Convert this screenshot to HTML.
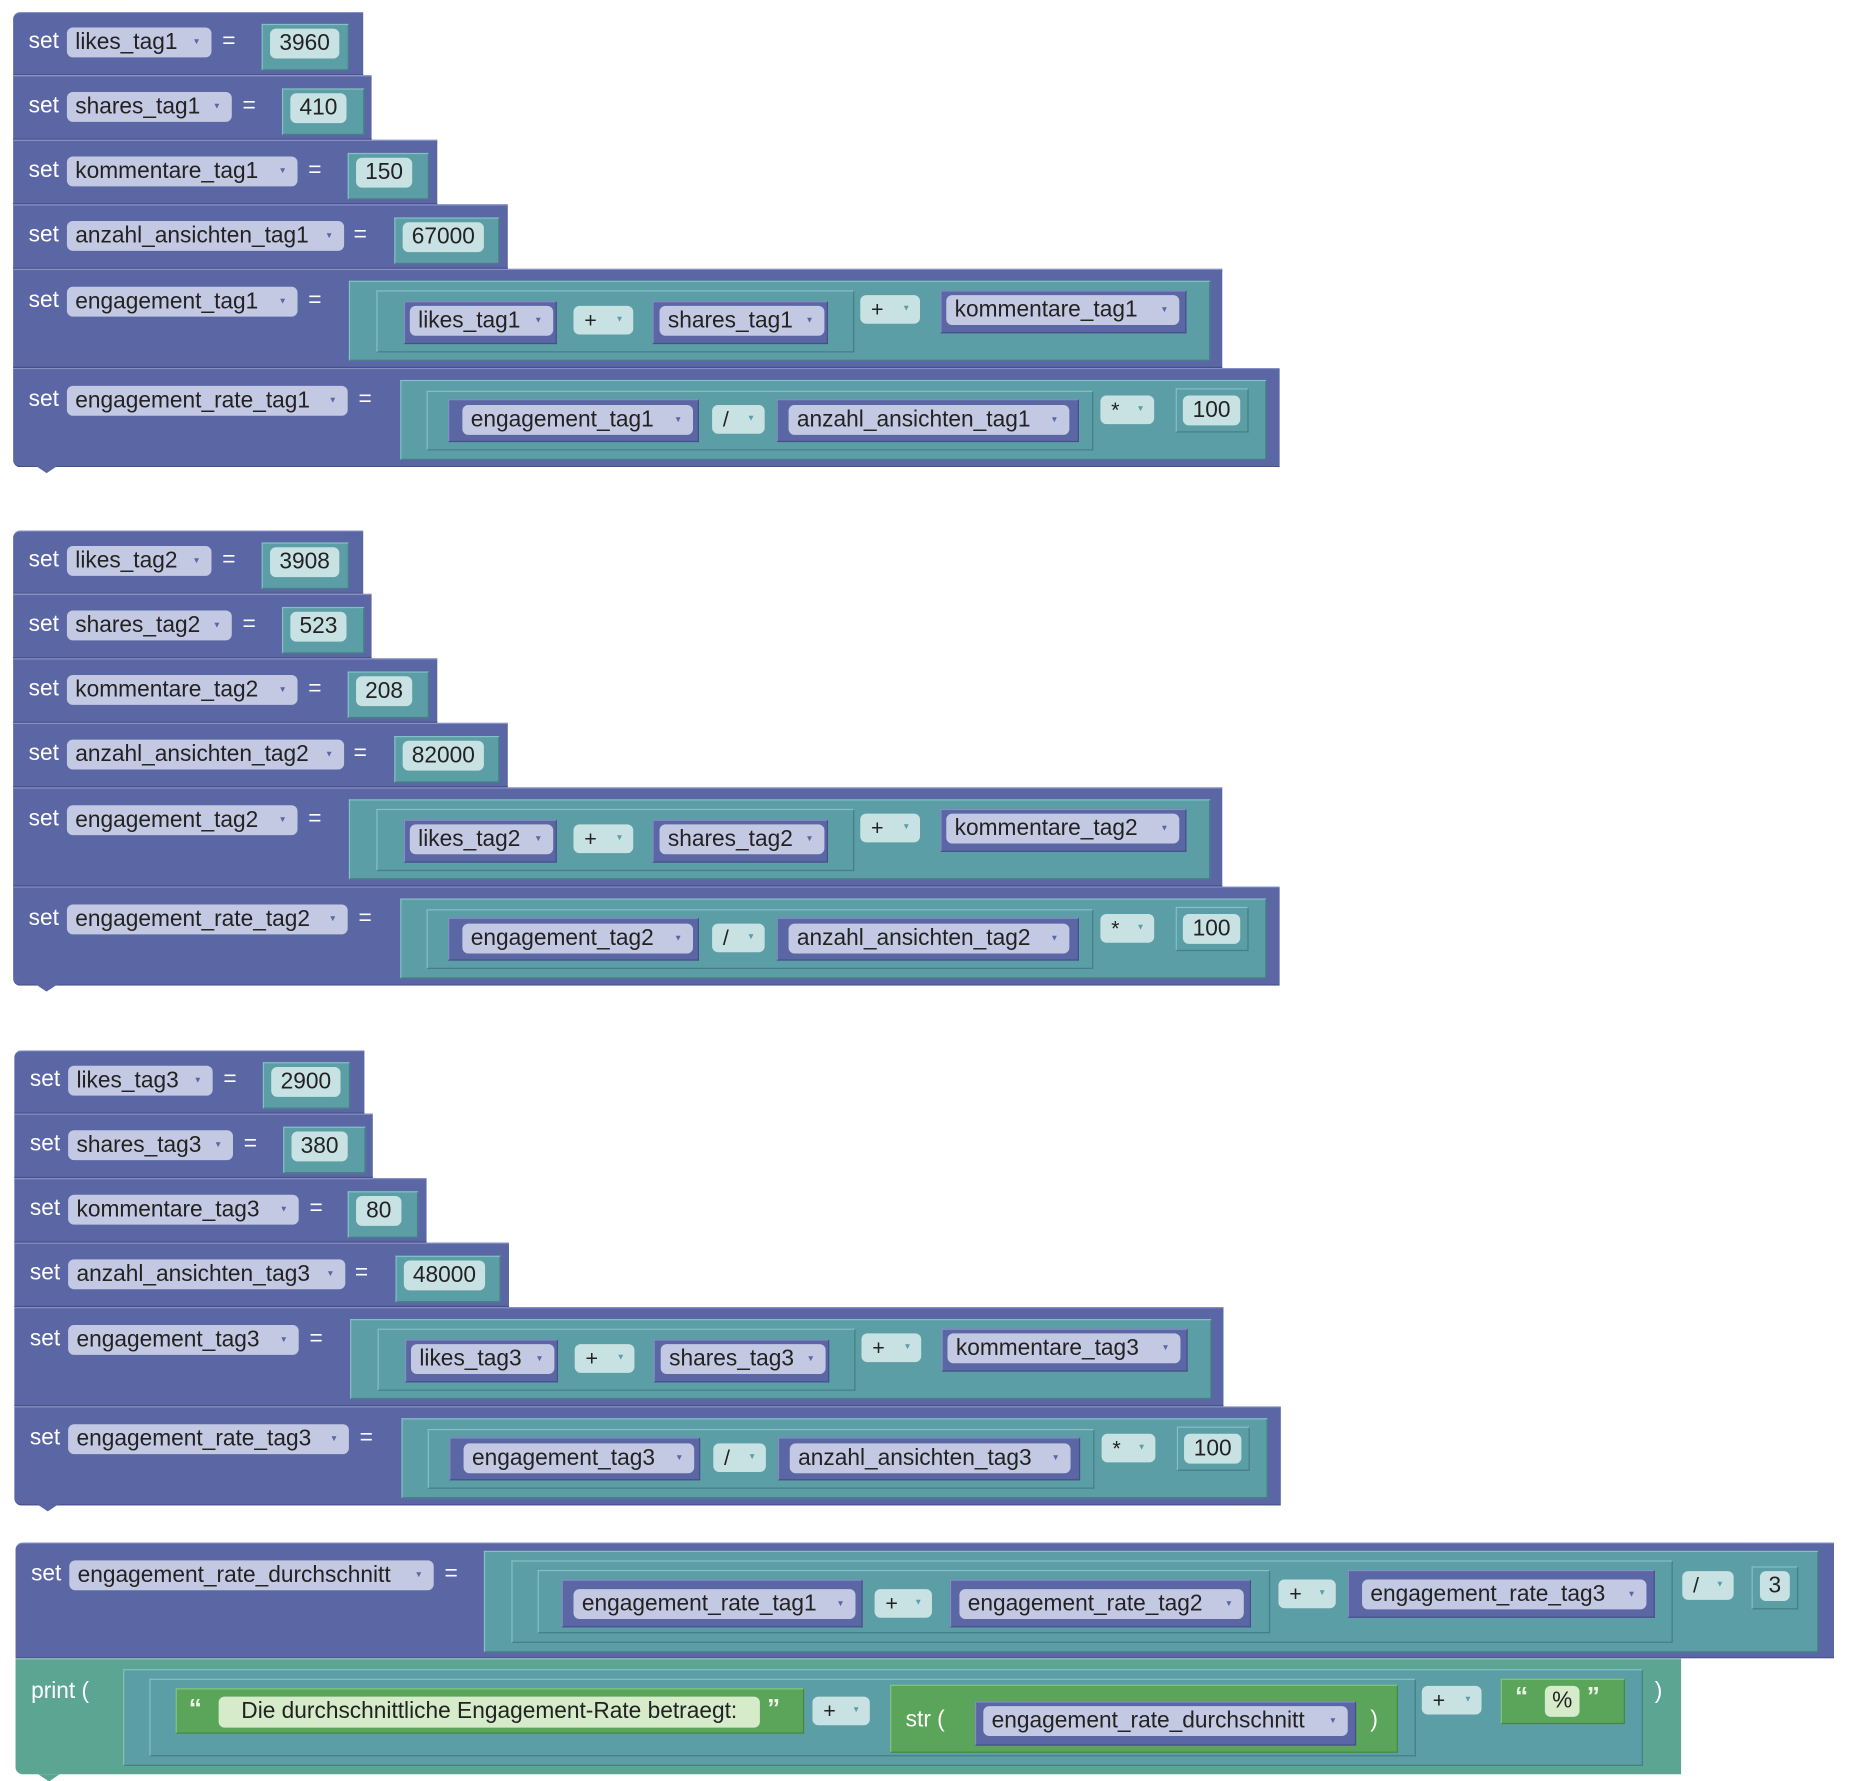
<!DOCTYPE html>
<html><head><meta charset="utf-8"><style>
html,body{margin:0;padding:0;background:#fff;width:1852px;height:1774px;overflow:hidden}
#c{position:absolute;left:0;top:0;width:1550px;height:1485px;transform:scale(1.1948);transform-origin:0 0;font-family:"Liberation Sans",sans-serif}
.g{position:absolute;left:0;width:1550px;height:420px}
.b{position:absolute;background:#5b67a5;border-top:1px solid #8590c4;border-bottom:1px solid #454f88;box-sizing:border-box}
.t{position:absolute;background:#5b9ea5;border:1px solid #84c0c5;border-right-color:#457e84;border-bottom-color:#457e84;box-sizing:border-box}
.gr{position:absolute;background:#5ba55b;border:1px solid #86c486;border-right-color:#468546;border-bottom-color:#468546;box-sizing:border-box}
.pr{position:absolute;background:#5ba592;border-top:1px solid #86c4b4;box-sizing:border-box}
.vb{position:absolute;background:#5b67a5;border:1px solid #8590c4;border-right-color:#454f88;border-bottom-color:#454f88;box-sizing:border-box}
.p{position:absolute;height:25px;line-height:25px;background:#c4c9e3;border-radius:5px;color:#222;font-size:19px;padding-left:7px;box-sizing:border-box;white-space:nowrap}
.p::after{content:"\25BC";position:absolute;right:9px;top:0;font-size:7px;color:#5b67a5}
.o{position:absolute;height:24px;line-height:24px;background:#c8e2e4;border-radius:5px;color:#222;font-size:18px;padding-left:9px;box-sizing:border-box}
.o::after{content:"\25BC";position:absolute;right:8px;top:0;font-size:7px;color:#5b9ea5}
.n{position:absolute;height:25px;line-height:25px;background:#c8e2e4;border-radius:5px;color:#222;font-size:19px;text-align:center;box-sizing:border-box}
.s{position:absolute;height:26px;line-height:26px;background:#d5ebc9;border-radius:5px;color:#222;font-size:19px;text-align:center;box-sizing:border-box;white-space:nowrap}
.w{position:absolute;color:#fff;font-size:19px;line-height:24px;white-space:nowrap}
.nt{position:absolute;width:0;height:0;border-left:9px solid transparent;border-right:9px solid transparent;border-top:6px solid #5b67a5}
</style></head><body><div id="c">

<!-- GROUP 1 -->
<div class="g" style="top:0">
<div class="b" style="left:11px;top:10px;width:293px;height:53px;border-radius:6px 0 0 0"></div>
<div class="w" style="left:24px;top:23px">set</div><div class="p" style="left:56px;top:23px;width:121px">likes_tag1</div><div class="w" style="left:186px;top:23px">=</div>
<div class="t" style="left:219px;top:20px;width:73px;height:39px"></div><div class="n" style="left:226px;top:24px;width:58px">3960</div>

<div class="b" style="left:11px;top:63px;width:300px;height:54px"></div>
<div class="w" style="left:24px;top:77px">set</div><div class="p" style="left:56px;top:77px;width:138px">shares_tag1</div><div class="w" style="left:203px;top:77px">=</div>
<div class="t" style="left:236px;top:74px;width:69px;height:39px"></div><div class="n" style="left:243px;top:78px;width:47px">410</div>

<div class="b" style="left:11px;top:117px;width:355px;height:54px"></div>
<div class="w" style="left:24px;top:131px">set</div><div class="p" style="left:56px;top:131px;width:193px">kommentare_tag1</div><div class="w" style="left:258px;top:131px">=</div>
<div class="t" style="left:291px;top:128px;width:68px;height:39px"></div><div class="n" style="left:298px;top:132px;width:47px">150</div>

<div class="b" style="left:11px;top:171px;width:414px;height:54px"></div>
<div class="w" style="left:24px;top:185px">set</div><div class="p" style="left:56px;top:185px;width:232px">anzahl_ansichten_tag1</div><div class="w" style="left:296px;top:185px">=</div>
<div class="t" style="left:330px;top:182px;width:88px;height:39px"></div><div class="n" style="left:337px;top:186px;width:68px">67000</div>

<div class="b" style="left:11px;top:225px;width:1012px;height:83px"></div>
<div class="w" style="left:24px;top:240px">set</div><div class="p" style="left:56px;top:240px;width:193px">engagement_tag1</div><div class="w" style="left:258px;top:240px">=</div>
<div class="t" style="left:292px;top:235px;width:721px;height:67px"></div>
<div class="t" style="left:315px;top:243px;width:400px;height:52px"></div>
<div class="vb" style="left:338px;top:252px;width:128px;height:36px"></div><div class="p" style="left:343px;top:256px;width:120px">likes_tag1</div>
<div class="o" style="left:480px;top:256px;width:50px">+</div>
<div class="vb" style="left:546px;top:252px;width:147px;height:36px"></div><div class="p" style="left:552px;top:256px;width:138px">shares_tag1</div>
<div class="o" style="left:720px;top:247px;width:50px">+</div>
<div class="vb" style="left:787px;top:243px;width:206px;height:36px"></div><div class="p" style="left:792px;top:247px;width:195px">kommentare_tag1</div>

<div class="b" style="left:11px;top:308px;width:1060px;height:83px;border-radius:0 0 0 6px"></div>
<div class="nt" style="left:30px;top:390px"></div>
<div class="w" style="left:24px;top:323px">set</div><div class="p" style="left:56px;top:323px;width:235px">engagement_rate_tag1</div><div class="w" style="left:300px;top:323px">=</div>
<div class="t" style="left:335px;top:318px;width:725px;height:67px"></div>
<div class="t" style="left:357px;top:327px;width:558px;height:50px"></div>
<div class="vb" style="left:375px;top:334px;width:210px;height:36px"></div><div class="p" style="left:387px;top:339px;width:193px">engagement_tag1</div>
<div class="o" style="left:596px;top:339px;width:44px">/</div>
<div class="vb" style="left:650px;top:334px;width:253px;height:36px"></div><div class="p" style="left:660px;top:339px;width:235px">anzahl_ansichten_tag1</div>
<div class="o" style="left:921px;top:331px;width:45px">*</div>
<div class="t" style="left:984px;top:325px;width:61px;height:37px"></div><div class="n" style="left:990px;top:331px;width:48px">100</div>
</div>

<!-- GROUP 2 -->
<div class="g" style="top:434px">
<div class="b" style="left:11px;top:10px;width:293px;height:53px;border-radius:6px 0 0 0"></div>
<div class="w" style="left:24px;top:23px">set</div><div class="p" style="left:56px;top:23px;width:121px">likes_tag2</div><div class="w" style="left:186px;top:23px">=</div>
<div class="t" style="left:219px;top:20px;width:73px;height:39px"></div><div class="n" style="left:226px;top:24px;width:58px">3908</div>

<div class="b" style="left:11px;top:63px;width:300px;height:54px"></div>
<div class="w" style="left:24px;top:77px">set</div><div class="p" style="left:56px;top:77px;width:138px">shares_tag2</div><div class="w" style="left:203px;top:77px">=</div>
<div class="t" style="left:236px;top:74px;width:69px;height:39px"></div><div class="n" style="left:243px;top:78px;width:47px">523</div>

<div class="b" style="left:11px;top:117px;width:355px;height:54px"></div>
<div class="w" style="left:24px;top:131px">set</div><div class="p" style="left:56px;top:131px;width:193px">kommentare_tag2</div><div class="w" style="left:258px;top:131px">=</div>
<div class="t" style="left:291px;top:128px;width:68px;height:39px"></div><div class="n" style="left:298px;top:132px;width:47px">208</div>

<div class="b" style="left:11px;top:171px;width:414px;height:54px"></div>
<div class="w" style="left:24px;top:185px">set</div><div class="p" style="left:56px;top:185px;width:232px">anzahl_ansichten_tag2</div><div class="w" style="left:296px;top:185px">=</div>
<div class="t" style="left:330px;top:182px;width:88px;height:39px"></div><div class="n" style="left:337px;top:186px;width:68px">82000</div>

<div class="b" style="left:11px;top:225px;width:1012px;height:83px"></div>
<div class="w" style="left:24px;top:240px">set</div><div class="p" style="left:56px;top:240px;width:193px">engagement_tag2</div><div class="w" style="left:258px;top:240px">=</div>
<div class="t" style="left:292px;top:235px;width:721px;height:67px"></div>
<div class="t" style="left:315px;top:243px;width:400px;height:52px"></div>
<div class="vb" style="left:338px;top:252px;width:128px;height:36px"></div><div class="p" style="left:343px;top:256px;width:120px">likes_tag2</div>
<div class="o" style="left:480px;top:256px;width:50px">+</div>
<div class="vb" style="left:546px;top:252px;width:147px;height:36px"></div><div class="p" style="left:552px;top:256px;width:138px">shares_tag2</div>
<div class="o" style="left:720px;top:247px;width:50px">+</div>
<div class="vb" style="left:787px;top:243px;width:206px;height:36px"></div><div class="p" style="left:792px;top:247px;width:195px">kommentare_tag2</div>

<div class="b" style="left:11px;top:308px;width:1060px;height:83px;border-radius:0 0 0 6px"></div>
<div class="nt" style="left:30px;top:390px"></div>
<div class="w" style="left:24px;top:323px">set</div><div class="p" style="left:56px;top:323px;width:235px">engagement_rate_tag2</div><div class="w" style="left:300px;top:323px">=</div>
<div class="t" style="left:335px;top:318px;width:725px;height:67px"></div>
<div class="t" style="left:357px;top:327px;width:558px;height:50px"></div>
<div class="vb" style="left:375px;top:334px;width:210px;height:36px"></div><div class="p" style="left:387px;top:339px;width:193px">engagement_tag2</div>
<div class="o" style="left:596px;top:339px;width:44px">/</div>
<div class="vb" style="left:650px;top:334px;width:253px;height:36px"></div><div class="p" style="left:660px;top:339px;width:235px">anzahl_ansichten_tag2</div>
<div class="o" style="left:921px;top:331px;width:45px">*</div>
<div class="t" style="left:984px;top:325px;width:61px;height:37px"></div><div class="n" style="left:990px;top:331px;width:48px">100</div>
</div>

<!-- GROUP 3 -->
<div class="g" style="top:869px;left:1px">
<div class="b" style="left:11px;top:10px;width:293px;height:53px;border-radius:6px 0 0 0"></div>
<div class="w" style="left:24px;top:23px">set</div><div class="p" style="left:56px;top:23px;width:121px">likes_tag3</div><div class="w" style="left:186px;top:23px">=</div>
<div class="t" style="left:219px;top:20px;width:73px;height:39px"></div><div class="n" style="left:226px;top:24px;width:58px">2900</div>

<div class="b" style="left:11px;top:63px;width:300px;height:54px"></div>
<div class="w" style="left:24px;top:77px">set</div><div class="p" style="left:56px;top:77px;width:138px">shares_tag3</div><div class="w" style="left:203px;top:77px">=</div>
<div class="t" style="left:236px;top:74px;width:69px;height:39px"></div><div class="n" style="left:243px;top:78px;width:47px">380</div>

<div class="b" style="left:11px;top:117px;width:345px;height:54px"></div>
<div class="w" style="left:24px;top:131px">set</div><div class="p" style="left:56px;top:131px;width:193px">kommentare_tag3</div><div class="w" style="left:258px;top:131px">=</div>
<div class="t" style="left:290px;top:128px;width:59px;height:39px"></div><div class="n" style="left:297px;top:132px;width:38px">80</div>

<div class="b" style="left:11px;top:171px;width:414px;height:54px"></div>
<div class="w" style="left:24px;top:185px">set</div><div class="p" style="left:56px;top:185px;width:232px">anzahl_ansichten_tag3</div><div class="w" style="left:296px;top:185px">=</div>
<div class="t" style="left:330px;top:182px;width:88px;height:39px"></div><div class="n" style="left:337px;top:186px;width:68px">48000</div>

<div class="b" style="left:11px;top:225px;width:1012px;height:83px"></div>
<div class="w" style="left:24px;top:240px">set</div><div class="p" style="left:56px;top:240px;width:193px">engagement_tag3</div><div class="w" style="left:258px;top:240px">=</div>
<div class="t" style="left:292px;top:235px;width:721px;height:67px"></div>
<div class="t" style="left:315px;top:243px;width:400px;height:52px"></div>
<div class="vb" style="left:338px;top:252px;width:128px;height:36px"></div><div class="p" style="left:343px;top:256px;width:120px">likes_tag3</div>
<div class="o" style="left:480px;top:256px;width:50px">+</div>
<div class="vb" style="left:546px;top:252px;width:147px;height:36px"></div><div class="p" style="left:552px;top:256px;width:138px">shares_tag3</div>
<div class="o" style="left:720px;top:247px;width:50px">+</div>
<div class="vb" style="left:787px;top:243px;width:206px;height:36px"></div><div class="p" style="left:792px;top:247px;width:195px">kommentare_tag3</div>

<div class="b" style="left:11px;top:308px;width:1060px;height:83px;border-radius:0 0 0 6px"></div>
<div class="nt" style="left:30px;top:390px"></div>
<div class="w" style="left:24px;top:323px">set</div><div class="p" style="left:56px;top:323px;width:235px">engagement_rate_tag3</div><div class="w" style="left:300px;top:323px">=</div>
<div class="t" style="left:335px;top:318px;width:725px;height:67px"></div>
<div class="t" style="left:357px;top:327px;width:558px;height:50px"></div>
<div class="vb" style="left:375px;top:334px;width:210px;height:36px"></div><div class="p" style="left:387px;top:339px;width:193px">engagement_tag3</div>
<div class="o" style="left:596px;top:339px;width:44px">/</div>
<div class="vb" style="left:650px;top:334px;width:253px;height:36px"></div><div class="p" style="left:660px;top:339px;width:235px">anzahl_ansichten_tag3</div>
<div class="o" style="left:921px;top:331px;width:45px">*</div>
<div class="t" style="left:984px;top:325px;width:61px;height:37px"></div><div class="n" style="left:990px;top:331px;width:48px">100</div>
</div>

<!-- GROUP 4 -->
<div class="b" style="left:13px;top:1291px;width:1522px;height:97px;border-radius:6px 0 0 0"></div>
<div class="w" style="left:26px;top:1306px">set</div><div class="p" style="left:58px;top:1306px;width:305px">engagement_rate_durchschnitt</div><div class="w" style="left:372px;top:1306px">=</div>
<div class="t" style="left:405px;top:1298px;width:1117px;height:85px"></div>
<div class="t" style="left:428px;top:1306px;width:972px;height:69px"></div>
<div class="t" style="left:450px;top:1314px;width:613px;height:53px"></div>
<div class="vb" style="left:470px;top:1322px;width:252px;height:40px"></div><div class="p" style="left:480px;top:1330px;width:236px">engagement_rate_tag1</div>
<div class="o" style="left:732px;top:1330px;width:48px">+</div>
<div class="vb" style="left:795px;top:1322px;width:252px;height:40px"></div><div class="p" style="left:803px;top:1330px;width:238px">engagement_rate_tag2</div>
<div class="o" style="left:1070px;top:1322px;width:48px">+</div>
<div class="vb" style="left:1128px;top:1314px;width:257px;height:40px"></div><div class="p" style="left:1140px;top:1322px;width:238px">engagement_rate_tag3</div>
<div class="o" style="left:1408px;top:1315px;width:43px">/</div>
<div class="t" style="left:1466px;top:1311px;width:39px;height:36px"></div><div class="n" style="left:1473px;top:1315px;width:25px">3</div>

<div class="pr" style="left:13px;top:1388px;width:1394px;height:97px;border-radius:0 0 0 6px"></div>
<div class="nt" style="left:32px;top:1485px;border-top-color:#5ba592"></div>
<div class="w" style="left:26px;top:1404px">print (</div>
<div class="t" style="left:103px;top:1397px;width:1272px;height:81px"></div>
<div class="t" style="left:125px;top:1405px;width:1060px;height:65px"></div>
<div class="gr" style="left:147px;top:1413px;width:526px;height:38px"></div>
<div class="w" style="left:158px;top:1418px;font-size:22px;font-weight:bold;color:#e8f5e0">“</div>
<div class="s" style="left:183px;top:1420px;width:453px">Die durchschnittliche Engagement-Rate betraegt:</div>
<div class="w" style="left:642px;top:1418px;font-size:22px;font-weight:bold;color:#e8f5e0">”</div>
<div class="o" style="left:680px;top:1420px;width:48px">+</div>
<div class="gr" style="left:745px;top:1410px;width:425px;height:57px"></div>
<div class="w" style="left:758px;top:1428px">str (</div>
<div class="vb" style="left:816px;top:1424px;width:319px;height:37px"></div><div class="p" style="left:823px;top:1428px;width:305px">engagement_rate_durchschnitt</div>
<div class="w" style="left:1147px;top:1428px">)</div>
<div class="o" style="left:1190px;top:1411px;width:50px">+</div>
<div class="gr" style="left:1256px;top:1405px;width:104px;height:38px"></div>
<div class="w" style="left:1268px;top:1408px;font-size:22px;font-weight:bold;color:#e8f5e0">“</div>
<div class="s" style="left:1293px;top:1411px;width:29px">%</div>
<div class="w" style="left:1328px;top:1408px;font-size:22px;font-weight:bold;color:#e8f5e0">”</div>
<div class="w" style="left:1385px;top:1404px">)</div>

</div></body></html>
